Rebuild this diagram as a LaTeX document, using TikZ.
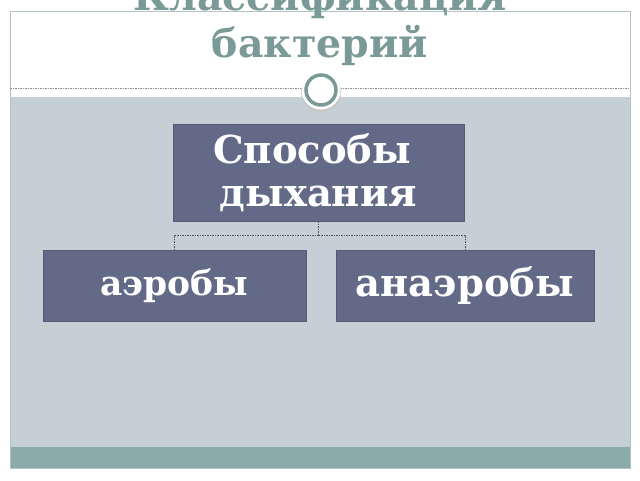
\documentclass[tikz,border=0pt]{standalone}
\usepackage{fontspec}
\setmainfont{DejaVu Serif}
\tikzstyle{levelbox}=[fill=boxfill, text=white, font=\bfseries, align=center, inner sep=0pt, draw=boxfill!85!black, line width=0.4pt]
\tikzstyle{link}=[draw=linkgray, line width=0.6pt, dash pattern=on 1.5pt off 1pt]
\definecolor{titletext}{RGB}{122,154,152}
\definecolor{slidearea}{RGB}{197,208,214}
\definecolor{footerband}{RGB}{139,171,171}
\definecolor{framegray}{RGB}{176,194,194}
\definecolor{boxfill}{RGB}{99,106,135}
\definecolor{linkgray}{RGB}{85,85,85}

\begin{document}
\begin{tikzpicture}[x=1pt, y=-1pt]
            \useasboundingbox (0, 0) rectangle (640, 480);
            \fill[white] (0, 0) rectangle (640, 480);
            \fill[slidearea] (10, 97) rectangle (630, 447);
            \fill[footerband] (10, 447) rectangle (630, 468);
            \draw[framegray, line width=0.6pt] (10, 11) rectangle (630, 468);
            \draw[black!45, line width=0.5pt, dash pattern=on 1.5pt off 1pt] (10, 88.5) -- (630, 88.5);

            \fill[black!22] (321, 92) circle (20);
            \fill[white] (321, 90) circle (19.5);
            \draw[titletext, line width=3.5pt] (321, 90) circle (15);

            \node[anchor=base, text=titletext, align=center,
                font=\bfseries\fontsize{39.5}{47}\selectfont] (title) at (320, 57)
                {Классификация\\бактерий};

            \node[levelbox, minimum width=291, minimum height=97,
                font=\bfseries\fontsize{38.5}{43}\selectfont] (resp) at (318.5, 172.5)
                {Способы\kern0.33em\\дыхания};
            \node[levelbox, minimum width=263, minimum height=71,
                font=\bfseries\fontsize{34.5}{40}\selectfont] (aer) at (174.5, 285.5)
                {\raisebox{-4pt}{аэробы}};
            \node[levelbox, minimum width=258, minimum height=71,
                font=\bfseries\fontsize{38.5}{44}\selectfont] (anaer) at (465, 285.5)
                {анаэробы};

            \draw[link] (resp.south) -- ++(0, 14) coordinate (fork);
            \draw[link] (fork) -| (aer.north);
            \draw[link] (fork) -| (anaer.north);
\end{tikzpicture}
\end{document}
